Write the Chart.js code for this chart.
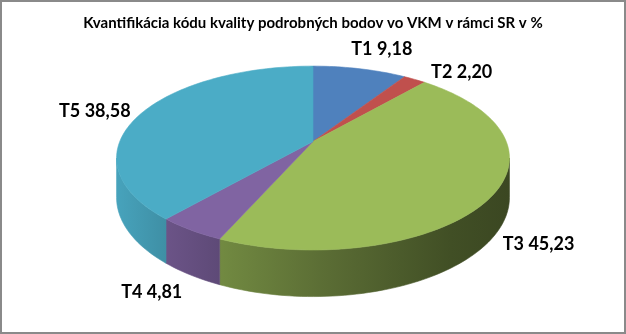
<!DOCTYPE html>
<html>
<head>
<meta charset="utf-8">
<script src="https://cdn.jsdelivr.net/npm/chart.js@4/dist/chart.umd.min.js"></script>
<style>
  body { margin: 0; background: #fff; }
  #wrap { width: 626px; height: 334px; }
</style>
</head>
<body>
<div id="wrap"><canvas id="myChart" width="626" height="334"></canvas></div>
<script>
const categories = ['T1', 'T2', 'T3', 'T4', 'T5'];
const values = [9.18, 2.20, 45.23, 4.81, 38.58];
const colors = ['#4F81BD', '#C0504D', '#9BBB59', '#8064A2', '#4BACC6'];
const chartTitle = 'Kvantifikácia kódu kvality podrobných bodov vo VKM v rámci SR v %';

// 3d look, relative to the pie radius chart.js computes
const RX = 1.942, RY = 0.894, DEPTH = 0.384, K = 0.18;
// side shading from left to right
const shadeStops = [[0, 0.95], [0.12, 0.84], [0.27, 0.73], [0.54, 0.58], [0.85, 0.42], [1, 0.38]];
// label nudges from the slice middle on the top face
const labelNudge = [[22, -20], [47, -7], [45, 50], [-39, 62], [-48, -1]];

function shade(hex, m) {
    const n = parseInt(hex.slice(1), 16);
    const r = Math.round(((n >> 16) & 255) * m);
    const g = Math.round(((n >> 8) & 255) * m);
    const b = Math.round((n & 255) * m);
    return `rgb(${r},${g},${b})`;
}

const pie3d = {
    id: 'pie3d',
    beforeDraw(chart) {
        const ctx = chart.ctx;
        ctx.save();
        ctx.fillStyle = '#fff';
        ctx.fillRect(0, 0, chart.width, chart.height);
        ctx.strokeStyle = '#8a8a8a';
        ctx.lineWidth = 2;
        ctx.strokeRect(1, 1, chart.width - 2, chart.height - 2);
        ctx.restore();
    },
    beforeDatasetsDraw(chart) {
        const ctx = chart.ctx;
        const arcs = chart.getDatasetMeta(0).data;
        const cx = arcs[0].x, cy = arcs[0].y, r = arcs[0].outerRadius;
        const a = r * RX, b = r * RY, h = r * DEPTH;
        const proj = (t, hh) => {
            const u = Math.cos(t), v = Math.sin(t), w = 1 - K * v;
            return [cx + a * u / w, cy + (b * v + hh) / w];
        };
        const lim0 = Math.asin(K), lim1 = Math.PI - lim0;
        const half = a / Math.sqrt(1 - K * K);
        const steps = 120;

        ctx.save();
        // sides
        arcs.forEach((arc, i) => {
            const s = Math.max(arc.startAngle, lim0);
            const e = Math.min(arc.endAngle, lim1);
            if (e <= s) return;
            const g = ctx.createLinearGradient(cx - half, 0, cx + half, 0);
            shadeStops.forEach(([t, m]) => g.addColorStop(t, shade(colors[i], m)));
            const n = Math.max(2, Math.ceil(steps * (e - s) / Math.PI));
            ctx.beginPath();
            for (let j = 0; j <= n; j++) {
                const p = proj(s + (e - s) * j / n, 0);
                j === 0 ? ctx.moveTo(p[0], p[1]) : ctx.lineTo(p[0], p[1]);
            }
            for (let j = n; j >= 0; j--) {
                const p = proj(s + (e - s) * j / n, h);
                ctx.lineTo(p[0], p[1]);
            }
            ctx.closePath();
            ctx.fillStyle = g;
            ctx.fill();
            ctx.strokeStyle = g;
            ctx.lineWidth = 0.6;
            ctx.stroke();
        });
        // top faces
        arcs.forEach((arc, i) => {
            const s = arc.startAngle, e = arc.endAngle;
            const n = Math.max(2, Math.ceil(steps * (e - s) / Math.PI));
            ctx.beginPath();
            ctx.moveTo(cx, cy);
            for (let j = 0; j <= n; j++) {
                const p = proj(s + (e - s) * j / n, 0);
                ctx.lineTo(p[0], p[1]);
            }
            ctx.closePath();
            ctx.fillStyle = colors[i];
            ctx.fill();
            ctx.strokeStyle = colors[i];
            ctx.lineWidth = 0.6;
            ctx.stroke();
        });
        // labels
        ctx.font = 'bold 18px Lato';
        ctx.fillStyle = '#000';
        ctx.textAlign = 'center';
        ctx.textBaseline = 'middle';
        arcs.forEach((arc, i) => {
            const mid = (arc.startAngle + arc.endAngle) / 2;
            const p = proj(mid, 0);
            const txt = categories[i] + ' ' + values[i].toFixed(2).replace('.', ',');
            ctx.fillText(txt, p[0] + labelNudge[i][0], p[1] + labelNudge[i][1]);
        });
        ctx.restore();
        return false;
    }
};

const ctx = document.getElementById('myChart').getContext('2d');

new Chart(ctx, {
    type: 'pie',
    data: {
        labels: categories,
        datasets: [{
            data: values,
            backgroundColor: colors,
            borderWidth: 0
        }]
    },
    options: {
        responsive: false,
        animation: false,
        layout: {
            padding: { bottom: 93 }
        },
        plugins: {
            legend: { display: false },
            tooltip: { enabled: false },
            title: {
                display: true,
                text: chartTitle,
                color: '#000',
                font: { family: 'Lato', size: 15, weight: 'bold' },
                padding: { top: 14, bottom: 10 }
            }
        }
    },
    plugins: [pie3d]
});
</script>
</body>
</html>
